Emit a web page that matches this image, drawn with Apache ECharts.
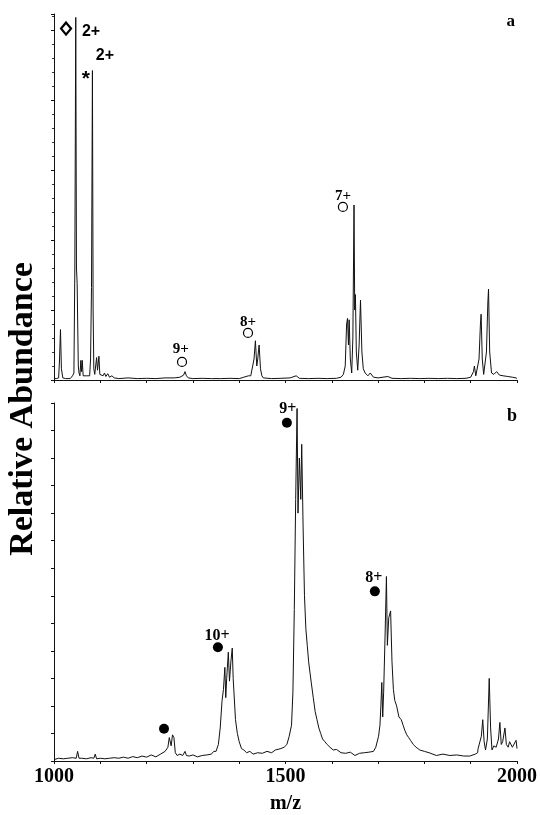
<!DOCTYPE html>
<html>
<head>
<meta charset="utf-8">
<script src="https://cdn.jsdelivr.net/npm/echarts@6/dist/echarts.min.js"></script>
<style>html,body{margin:0;padding:0;background:#fff}#c{width:540px;height:815px}</style>
</head>
<body>
<div id="c"></div>
<script>
// ---- Data ----
const xTickLabels = [1000, 1500, 2000];

// Panel a spectrum: [m/z, abundance]
const spectrumA = [
[1000,0.1],[1005,0.1],[1010,0.15],[1012,1.5],[1014,3.6],[1016,0.8],[1019,0.15],[1025,0.1],[1035,0.1],[1040,0.3],
[1043,0.5],[1045,8],[1047,25.9],[1048.5,8],[1050,6.9],[1051,7.0],[1052.5,1.0],[1054,0.5],
[1056,0.3],[1058,1.4],[1059.5,0.6],[1061,1.4],[1063,0.3],[1066,0.2],[1070,0.3],
[1077,0.3],[1079,1.5],[1081,6.6],[1083,22.1],[1084.5,5],[1086,0.8],[1088,0.4],
[1090,0.4],[1092,1.6],[1094,0.7],[1097,1.7],[1099,0.4],
[1103,0.5],[1106,0.3],[1109,0.5],[1112,0.25],[1116,0.45],[1120,0.2],[1125,0.3],[1130,0.15],
[1140,0.1],[1160,0.15],[1180,0.1],[1200,0.12],[1220,0.1],[1240,0.15],[1260,0.15],[1272,0.2],
[1276,0.2],[1280,0.35],[1283,0.6],[1286,0.3],[1290,0.15],
[1300,0.1],[1320,0.12],[1340,0.1],[1360,0.1],[1380,0.12],[1400,0.1],[1410,0.2],[1420,0.3],[1425,0.3],
[1429,0.4],[1432,1.5],[1435,2.8],[1438,1.0],[1440,1.5],[1443,2.5],[1446,0.8],[1449,0.3],[1452,0.15],
[1470,0.1],[1490,0.12],[1510,0.15],[1523,0.3],[1530,0.12],[1550,0.1],[1570,0.12],[1590,0.1],[1610,0.12],[1620,0.2],
[1625,0.4],[1629,1.0],[1632,4.0],[1634,4.4],[1636,2.5],[1637.5,4.3],[1640,1.5],[1643,0.5],[1645.5,3],[1648,12.5],
[1649.5,5],[1651,6.1],[1653,2],[1656,0.7],[1659,2.5],[1662,5.7],[1665,2.0],[1668,0.8],[1672,0.5],[1678,0.3],[1683,0.5],[1686,0.55],[1690,0.2],
[1700,0.15],[1721,0.25],[1730,0.12],[1750,0.1],[1770,0.12],[1790,0.1],[1810,0.12],[1830,0.1],[1850,0.12],[1870,0.1],[1890,0.12],[1900,0.2],
[1903,0.2],[1906,0.6],[1908,1.0],[1911,0.3],[1914,0.25],[1918,1.5],[1921,4.0],[1922.5,4.7],[1925,1.5],[1928,0.4],[1931,0.35],
[1934,2.0],[1937,5.5],[1938.5,6.5],[1941,2.0],[1945,0.5],[1950,0.4],[1956,0.6],[1962,0.35],[1970,0.3],[1980,0.25],[1990,0.2],[1998,0.15],[2000,0.1]
];

// Panel b spectrum: [m/z, abundance]
const spectrumB = [
[1000,0.05],[1010,0.1],[1020,0.08],[1030,0.1],[1040,0.12],[1048,0.1],[1051,0.35],[1054,0.1],[1060,0.1],[1070,0.08],[1080,0.12],
[1086,0.1],[1089,0.25],[1092,0.08],[1100,0.1],[1110,0.08],[1120,0.1],[1130,0.12],[1140,0.1],[1150,0.14],[1160,0.1],[1170,0.16],
[1180,0.12],[1190,0.18],[1200,0.14],[1210,0.22],[1220,0.15],[1230,0.25],[1240,0.35],
[1246,0.5],[1249,0.85],[1251,0.9],[1253,0.55],[1256,0.95],[1259,0.85],[1262,0.3],[1266,0.2],[1272,0.25],[1278,0.2],[1283,0.35],[1286,0.2],
[1292,0.18],[1300,0.22],[1310,0.15],[1320,0.2],[1330,0.22],[1340,0.25],[1345,0.35],
[1350,0.35],[1355,0.6],[1359,1.2],[1363,2.2],[1366,2.6],[1369,3.4],[1371,2.3],[1373,3.0],[1376.5,3.95],[1379,2.9],[1382,3.6],[1385,4.1],
[1387,3.0],[1389,2.4],[1392,1.5],[1396,1.0],[1400,0.7],[1405,0.45],[1410,0.4],[1416,0.3],[1423,0.35],[1430,0.25],[1440,0.3],[1450,0.28],[1460,0.35],[1470,0.3],
[1478,0.4],[1490,0.45],[1497,0.5],[1503,0.6],[1508,0.9],[1513,1.3],[1516,2.5],[1519,5.5],[1522,9.5],[1525,12.8],[1527,9.0],[1530,11.0],
[1533,9.5],[1535,11.5],[1538,8.5],[1541,6.0],[1544,4.8],[1547,4.2],[1550,3.6],[1553,3.2],[1556,2.8],[1560,2.3],[1564,1.8],[1568,1.5],
[1572,1.2],[1576,1.0],[1580,0.8],[1585,0.7],[1590,0.6],[1596,0.5],[1603,0.4],[1610,0.42],[1620,0.3],[1630,0.28],[1640,0.32],[1650,0.2],
[1660,0.28],[1670,0.3],[1680,0.32],[1690,0.35],[1695,0.5],
[1697,0.55],[1701,0.9],[1704,1.3],[1706,2.0],[1708,2.85],[1710,1.6],[1712,2.5],[1715,4.5],[1718,6.7],[1720,4.2],[1723,5.2],[1727,5.45],
[1730,3.6],[1733,2.6],[1736,2.2],[1740,2.0],[1745,1.6],[1750,1.5],[1754,1.3],[1758,1.1],[1762,0.95],[1766,0.85],[1770,0.75],[1776,0.6],
[1782,0.5],[1790,0.4],[1800,0.35],[1810,0.3],[1826,0.2],[1840,0.25],[1855,0.2],[1870,0.22],[1885,0.18],[1898,0.18],[1910,0.25],[1915,0.3],
[1916,0.45],[1920,0.4],[1923,0.9],[1926,1.5],[1929,0.7],[1932,0.4],[1936,0.8],[1940,3.0],[1943,1.2],[1946,0.4],[1950,0.55],[1955,0.5],
[1960,0.8],[1963,1.4],[1966,0.6],[1969,0.7],[1974,1.2],[1977,0.6],[1981,0.5],[1984,0.7],[1987,0.7],[1990,0.5],[1994,0.5],[1998,0.75],[2000,0.45]
];

// Annotation markers and labels: [m/z, level]
const diamondA = [[1026, 25.1]];
const openCirclesA = [[1276.5, 1.29], [1419, 3.36], [1624, 12.36]];
const labelsA = [
  {pos: [1080, 24.86], text: '2+', bold: true},
  {pos: [1110, 23.2], text: '2+', bold: true},
  {pos: [1069, 21.5], text: '*', bold: true},
  {pos: [1274, 2.2], text: '9+', bold: false},
  {pos: [1419, 4.14], text: '8+', bold: false},
  {pos: [1624, 13.1], text: '7+', bold: false}
];
const filledDotsB = [[1503, 12.28], [1693, 6.16], [1354, 4.13], [1237.6, 1.17]];
const labelsB = [
  {pos: [1505, 12.78], text: '9+'},
  {pos: [1691, 6.65], text: '8+'},
  {pos: [1352, 4.55], text: '10+'}
];

// ---- Chart ----
const serif = '"Liberation Serif", "DejaVu Serif", serif';
const chart = echarts.init(document.getElementById('c'), null, {renderer: 'canvas'});

function xAxisCfg(idx, showLabels) {
  return {
    type: 'value', gridIndex: idx, min: 1000, max: 2000, interval: 100,
    axisLine: {show: true, onZero: false, lineStyle: {color: '#111', width: 1}},
    axisTick: {show: true, length: 3, lineStyle: {color: '#111'}},
    splitLine: {show: false},
    axisLabel: {
      show: showLabels, margin: 6, color: '#000',
      fontFamily: serif, fontWeight: 'bold', fontSize: 20,
      formatter: v => xTickLabels.indexOf(v) >= 0 ? String(v) : ''
    },
    name: showLabels ? 'm/z' : '', nameLocation: 'middle', nameGap: 33,
    nameTextStyle: {fontFamily: serif, fontWeight: 'bold', fontSize: 20, color: '#000'}
  };
}

const lineStyleMain = {color: '#111', width: 1};

function textLabels(list, fontFn) {
  return list.map(l => ({
    value: l.pos,
    label: Object.assign({show: true, position: 'inside', formatter: l.text, color: '#000', opacity: 1}, fontFn(l))
  }));
}

const option = {
  animation: false,
  backgroundColor: '#fff',
  grid: [
    {left: 54, right: 23, top: 14, height: 366},
    {left: 54, right: 23, top: 403, height: 365}
  ],
  xAxis: [xAxisCfg(0, false), xAxisCfg(1, true)],
  yAxis: [
    {type: 'value', gridIndex: 0, min: 0, max: 26.14, interval: 5,
     axisLine: {show: true, lineStyle: {color: '#111', width: 1}},
     axisTick: {show: true, length: 3, lineStyle: {color: '#111'}},
     minorTick: {show: true, splitNumber: 5, length: 2, lineStyle: {color: '#333'}},
     axisLabel: {show: false}, splitLine: {show: false}},
    {type: 'value', gridIndex: 1, min: 0, max: 13, interval: 1,
     axisLine: {show: true, lineStyle: {color: '#111', width: 1}},
     axisTick: {show: true, length: 3, lineStyle: {color: '#111'}},
     axisLabel: {show: false}, splitLine: {show: false}}
  ],
  title: [
    {text: 'a', right: 20, top: 8, textStyle: {fontFamily: serif, fontWeight: 'bold', fontSize: 17, color: '#000'}},
    {text: 'b', right: 18, top: 402, textStyle: {fontFamily: serif, fontWeight: 'bold', fontSize: 18, color: '#000'}}
  ],
  graphic: [
    {type: 'text', x: 23, y: 409, rotation: Math.PI / 2,
     style: {text: 'Relative Abundance', fontFamily: serif, fontWeight: 'bold', fontSize: 34,
             fill: '#000', align: 'center', verticalAlign: 'middle'}}
  ],
  series: [
    {type: 'line', xAxisIndex: 0, yAxisIndex: 0, data: spectrumA, showSymbol: false,
     lineStyle: lineStyleMain, silent: true},
    {type: 'line', xAxisIndex: 1, yAxisIndex: 1, data: spectrumB, showSymbol: false,
     lineStyle: lineStyleMain, silent: true},
    {type: 'scatter', xAxisIndex: 0, yAxisIndex: 0, data: diamondA, symbol: 'diamond', symbolSize: [10, 12],
     itemStyle: {color: '#fff', borderColor: '#000', borderWidth: 2.2, opacity: 1}},
    {type: 'scatter', xAxisIndex: 0, yAxisIndex: 0, data: openCirclesA, symbol: 'circle', symbolSize: 9,
     itemStyle: {color: '#fff', borderColor: '#000', borderWidth: 1.2, opacity: 1}},
    {type: 'scatter', xAxisIndex: 0, yAxisIndex: 0, symbol: 'circle', symbolSize: 1,
     itemStyle: {color: 'rgba(0,0,0,0)', opacity: 1}, z: 5,
     data: textLabels(labelsA, l => ({
       fontFamily: l.bold ? '"Liberation Sans", sans-serif' : serif,
       fontWeight: 'bold', fontSize: l.text === '*' ? 21 : (l.bold ? 16 : 15)}))},
    {type: 'scatter', xAxisIndex: 1, yAxisIndex: 1, data: filledDotsB, symbol: 'circle', symbolSize: 10,
     itemStyle: {color: '#000', opacity: 1}},
    {type: 'scatter', xAxisIndex: 1, yAxisIndex: 1, symbol: 'circle', symbolSize: 1,
     itemStyle: {color: 'rgba(0,0,0,0)', opacity: 1}, z: 5,
     data: textLabels(labelsB, l => ({fontFamily: serif, fontWeight: 'bold', fontSize: 16}))}
  ]
};
chart.setOption(option);
</script>
</body>
</html>
